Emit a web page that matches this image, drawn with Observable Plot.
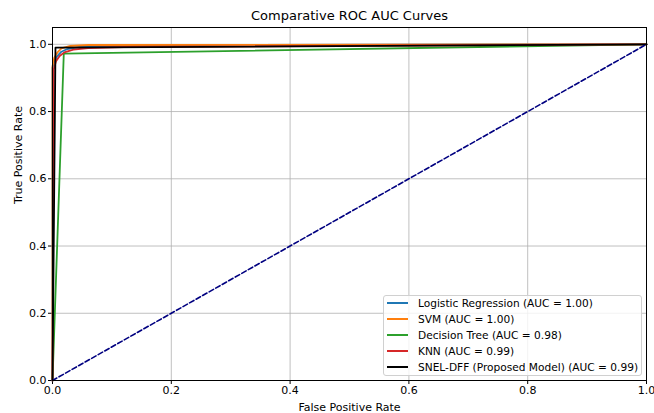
<!DOCTYPE html>
<html><head><meta charset="utf-8">
<script src="https://cdn.jsdelivr.net/npm/d3@7"></script>
<script src="https://cdn.jsdelivr.net/npm/@observablehq/plot@0.6"></script>
<style>
body{margin:0;background:#fff;}
#wrap{position:relative;width:654px;height:413px;font-family:"DejaVu Sans",sans-serif;color:#000;}
#legend{position:absolute;left:383px;top:295px;width:259px;height:81px;box-sizing:border-box;
 border:1px solid #d0d0d0;border-radius:3px;background:rgba(255,255,255,0.8);padding:0;}
.row{display:flex;align-items:center;height:15.8px;font-size:10.6px;white-space:nowrap;}
.row:first-child{margin-top:-0.5px;}
.sw{width:21px;height:2px;margin-left:3px;margin-right:10px;}
</style></head><body><div id="wrap"></div>
<script>
const title = "Comparative ROC AUC Curves";
const models = ["Logistic Regression (AUC = 1.00)", "SVM (AUC = 1.00)", "Decision Tree (AUC = 0.98)", "KNN (AUC = 0.99)", "SNEL-DFF (Proposed Model) (AUC = 0.99)"];
const colors = ["#1f77b4", "#ff7f0e", "#2ca02c", "#d62728", "#000000"];
const fprLR   = [0, 0.000, 0.003, 0.008, 0.015, 0.025, 0.045, 0.10, 0.25, 1];
const tprLR   = [0, 0.930, 0.950, 0.965, 0.978, 0.986, 0.992, 0.995, 0.998, 1];
const fprSVM  = [0, 0.000, 0.003, 0.008, 0.015, 0.030, 0.060, 1];
const tprSVM  = [0, 0.935, 0.960, 0.975, 0.988, 0.995, 0.998, 1];
const fprDT   = [0, 0.019, 1];
const tprDT   = [0, 0.972, 1];
const fprKNN  = [0, 0.002, 0.006, 0.012, 0.020, 0.035, 0.060, 0.12, 1];
const tprKNN  = [0, 0.925, 0.950, 0.965, 0.976, 0.984, 0.989, 0.992, 1];
const fprSNEL = [0, 0.005, 1];
const tprSNEL = [0, 0.990, 1];
const diagX = [0, 1];
const diagY = [0, 1];
const ticks = [0, 0.2, 0.4, 0.6, 0.8, 1.0];

const fprs = [fprLR, fprSVM, fprDT, fprKNN, fprSNEL];
const tprs = [tprLR, tprSVM, tprDT, tprKNN, tprSNEL];
const rows = [];
models.forEach((m, i) => fprs[i].forEach((f, j) => rows.push({model: m, fpr: f, tpr: tprs[i][j]})));
const diag = diagX.map((x, i) => ({x, y: diagY[i]}));

const chart = Plot.plot({
  width: 654, height: 413,
  marginLeft: 52, marginRight: 8, marginTop: 27, marginBottom: 33,
  style: {fontFamily: "DejaVu Sans, sans-serif", fontSize: "11px", color: "#000", background: "#fff"},
  x: {domain: [0, 1]},
  y: {domain: [0, 1.05]},
  color: {domain: models, range: colors},
  marks: [
    Plot.gridX(ticks, {stroke: "#b0b0b0", strokeOpacity: 1, strokeWidth: 0.8}),
    Plot.gridY(ticks, {stroke: "#b0b0b0", strokeOpacity: 1, strokeWidth: 0.8}),
    Plot.axisX(ticks, {tickFormat: d3.format(".1f"), tickSize: 4, tickPadding: 2, fontSize: 11, label: null}),
    Plot.axisY(ticks, {tickFormat: d3.format(".1f"), tickSize: 4, tickPadding: 2, fontSize: 11, label: null}),
    Plot.line(rows, {x: "fpr", y: "tpr", z: "model", stroke: "model", strokeWidth: 1.8, curve: "linear"}),
    Plot.line(diag, {x: "x", y: "y", stroke: "#000080", strokeWidth: 1.6, strokeDasharray: "5,2.5"}),
    Plot.frame({stroke: "#000", strokeWidth: 1}),
    Plot.text([title], {frameAnchor: "top", dy: -17, fontSize: 13, text: d => d}),
    Plot.text(["False Positive Rate"], {frameAnchor: "bottom", dy: 30, fontSize: 11, text: d => d}),
    Plot.text(["True Positive Rate"], {frameAnchor: "left", dx: -34, rotate: -90, fontSize: 11, text: d => d})
  ]
});
const wrap = document.getElementById("wrap");
wrap.appendChild(chart);
const lg = document.createElement("div");
lg.id = "legend";
models.forEach((m, i) => {
  const r = document.createElement("div");
  r.className = "row";
  r.innerHTML = `<span class="sw" style="background:${colors[i]}"></span><span>${m}</span>`;
  lg.appendChild(r);
});
wrap.appendChild(lg);
</script></body></html>
